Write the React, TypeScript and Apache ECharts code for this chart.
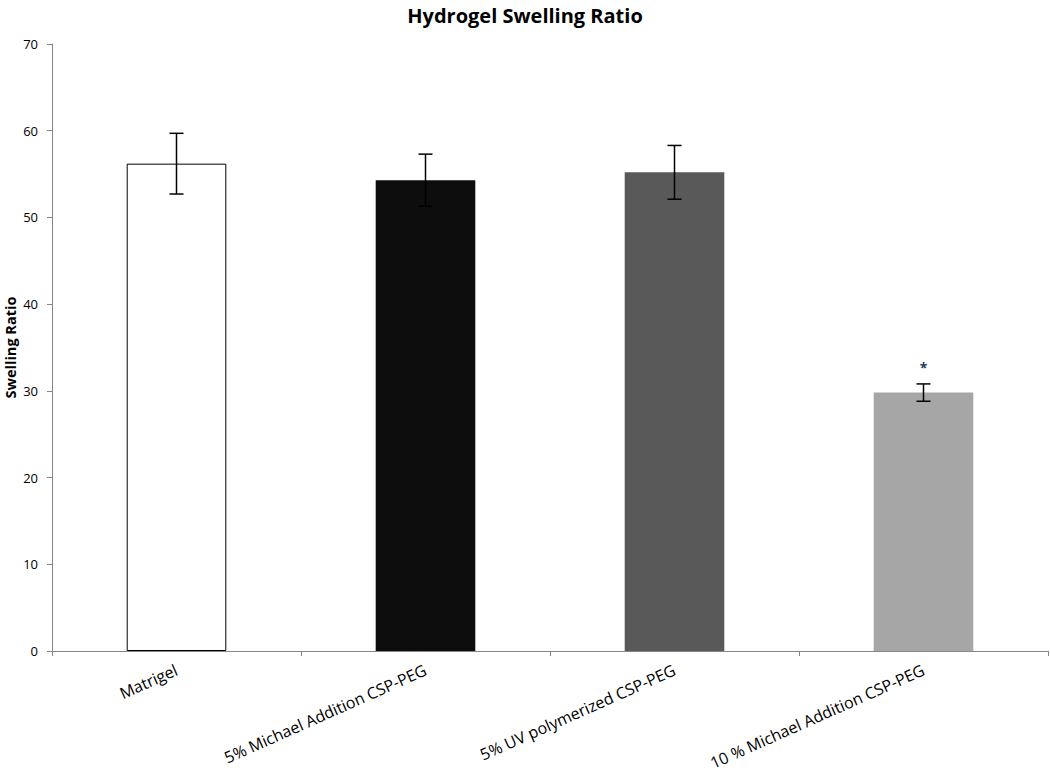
import React, { useEffect, useRef } from "react";
import * as echarts from "echarts";

const categories = [
  "Matrigel",
  "5% Michael Addition CSP-PEG",
  "5% UV polymerized CSP-PEG",
  "10 % Michael Addition CSP-PEG",
];
const values = [56.2, 54.3, 55.2, 29.8];
const errors = [3.5, 3.0, 3.1, 1.0];
const marks = ["", "", "", "*"];
const barColors = ["#ffffff", "#0d0d0d", "#595959", "#a6a6a6"];
const yTicks = [0, 10, 20, 30, 40, 50, 60, 70];

export default function App() {
  const ref = useRef<HTMLDivElement>(null);
  useEffect(() => {
    if (!ref.current) return;
    const chart = echarts.init(ref.current, undefined, { renderer: "svg" });
    const font = "'Open Sans', 'Liberation Sans', sans-serif";
    chart.setOption({
      animation: false,
      backgroundColor: "#ffffff",
      title: {
        text: "Hydrogel Swelling Ratio",
        left: "center",
        top: 0,
        textStyle: { fontFamily: font, fontWeight: "bold", fontSize: 20, color: "#000" },
      },
      grid: { left: 52, right: 2, top: 44, bottom: 132, outerBoundsMode: "none", containLabel: false },
      xAxis: {
        type: "category",
        data: categories,
        axisLine: { lineStyle: { color: "#868686", width: 1 } },
        axisTick: { show: true, length: 5, lineStyle: { color: "#868686" } },
        axisLabel: {
          rotate: 24,
          interval: 0,
          fontFamily: font,
          fontSize: 16,
          color: "#000",
          margin: 18,
        },
      },
      yAxis: {
        type: "value",
        min: yTicks[0],
        max: yTicks[yTicks.length - 1],
        interval: 10,
        name: "Swelling Ratio",
        nameLocation: "middle",
        nameGap: 34,
        nameMoveOverlap: false,
        nameTextStyle: { fontFamily: font, fontWeight: "bold", fontSize: 14.5, color: "#000" },
        axisLine: { show: true, lineStyle: { color: "#868686", width: 1 } },
        axisTick: { show: true, length: 5, lineStyle: { color: "#868686" } },
        splitLine: { show: false },
        axisLabel: { fontFamily: font, fontSize: 13, color: "#000", margin: 14 },
      },
      series: [
        {
          type: "bar",
          barWidth: "40%",
          data: values.map((v, i) => ({
            value: v,
            itemStyle: {
              color: barColors[i],
              borderColor: i === 0 ? "#000" : barColors[i],
              borderWidth: i === 0 ? 1 : 0,
            },
          })),
          z: 2,
        },
        {
          type: "custom",
          data: values.map((v, i) => [i, v - errors[i], v + errors[i]]),
          z: 5,
          renderItem: (params: any, api: any) => {
            const x = api.value(0);
            const lo = api.coord([x, api.value(1)]);
            const hi = api.coord([x, api.value(2)]);
            const cap = 7;
            const style = { stroke: "#000", lineWidth: 1.5 };
            return {
              type: "group",
              children: [
                { type: "line", shape: { x1: lo[0], y1: lo[1], x2: hi[0], y2: hi[1] }, style },
                { type: "line", shape: { x1: hi[0] - cap, y1: hi[1], x2: hi[0] + cap, y2: hi[1] }, style },
                { type: "line", shape: { x1: lo[0] - cap, y1: lo[1], x2: lo[0] + cap, y2: lo[1] }, style },
              ],
            };
          },
        },
        {
          type: "custom",
          data: values.map((v, i) => [i, v + errors[i], marks[i]]),
          z: 6,
          renderItem: (params: any, api: any) => {
            const i = params.dataIndex;
            const p = api.coord([api.value(0), api.value(1)]);
            return {
              type: "text",
              x: p[0],
              y: p[1] - 16,
              style: {
                text: marks[i],
                fill: "#1f3864",
                font: "bold 14px " + font,
                align: "center",
                verticalAlign: "middle",
              },
            };
          },
        },
      ],
    });
    return () => chart.dispose();
  }, []);
  return (
    <div
      ref={ref}
      style={{ position: "fixed", left: 0, top: 0, width: 1050, height: 783 }}
    />
  );
}
